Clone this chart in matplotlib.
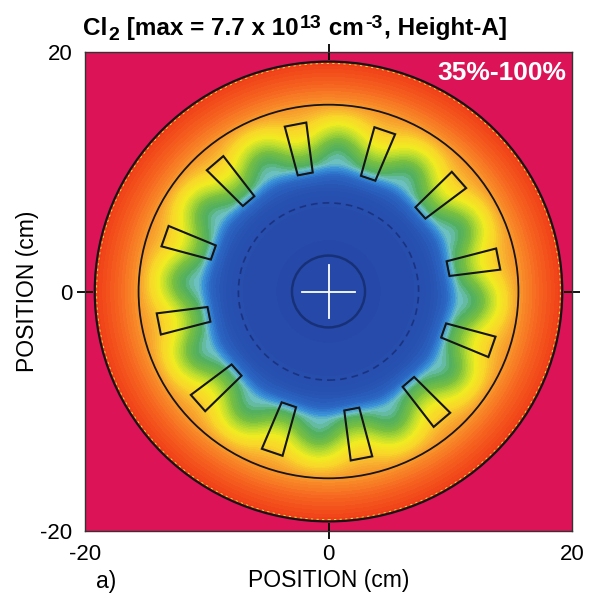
import numpy as np
import matplotlib
matplotlib.use('Agg')
import matplotlib.pyplot as plt
from matplotlib.colors import LinearSegmentedColormap
from matplotlib.patches import Circle, Polygon

plt.rcParams.update({
    "font.family": ["Liberation Sans", "DejaVu Sans"],
    "axes.unicode_minus": False,
})

# radial profile of the normalised Cl2 density (0 = 35 %, 1 = 100 %)
radius_cm = [0, 3, 7, 8.4, 9.5, 10.2, 10.7, 11.4, 12.2, 13.0, 14.0, 15.0, 15.6, 16.5, 17.5, 18.5, 19.2]
density = [0.0, 0.01, 0.03, 0.08, 0.15, 0.24, 0.31, 0.36, 0.43, 0.52, 0.63, 0.73, 0.79, 0.85, 0.91, 0.96, 1.0]
# strength of the 12-fold ripple caused by the coils
ripple_r = [0, 8.8, 9.8, 10.8, 11.7, 12.5, 13.5, 14.5, 15.3, 16.0, 19.2]
ripple_amp = [0, 0, 0.012, 0.03, 0.06, 0.08, 0.07, 0.04, 0.02, 0, 0]

# coil positions
coil_angles = [11, 41, 71, 101, 131, 161, 191, 221, 251, 281, 311, 341]
coil_r_in, coil_r_out = 10.0, 14.2
coil_w_in, coil_w_out = 1.25, 1.8

wall_r = 19.2
inner_ring_r = 15.6
dashed_ring_r = 7.4
center_ring_r = 3.0

ticks = [-20, 0, 20]

stops = [0.00, 0.10, 0.18, 0.24, 0.29, 0.34, 0.42, 0.50, 0.58, 0.66, 0.74, 0.82, 0.90, 1.00]
colors = ['#2648a8', '#2854b4', '#2c6cc8', '#3c96d8', '#6cc0c0', '#52b060', '#78c040',
          '#b8dc30', '#f0ec20', '#f8d828', '#f8b030', '#f88c28', '#f66420', '#f03c18']
cmap = LinearSegmentedColormap.from_list('cl2', list(zip(stops, colors)))

# build the field on a grid
x = np.linspace(-20, 20, 600)
X, Y = np.meshgrid(x, x)
R = np.hypot(X, Y)
T = np.degrees(np.arctan2(Y, X))
F = np.interp(R, radius_cm, density) + \
    np.interp(R, ripple_r, ripple_amp) * np.cos(np.radians(12 * (T - coil_angles[0])))
F = np.clip(F, 0, 1)
F = np.ma.masked_where(R > wall_r, F)

fig = plt.figure(figsize=(5.92, 5.95), dpi=100)
ax = fig.add_axes([85 / 592, 1 - 531 / 595, 487 / 592, 479 / 595])
ax.set_facecolor('#dc1457')

ax.contourf(X, Y, F, levels=np.linspace(0, 1, 61), cmap=cmap, antialiased=False)

ax.add_patch(Circle((0, 0), wall_r - 0.15, fill=False, ec='#e8d040', lw=0.8, ls=(0, (2, 3))))
ax.add_patch(Circle((0, 0), wall_r, fill=False, ec='#151515', lw=1.6))
ax.add_patch(Circle((0, 0), inner_ring_r, fill=False, ec='#151515', lw=1.3))
ax.add_patch(Circle((0, 0), dashed_ring_r, fill=False, ec='#1a3380', lw=1.2, ls=(0, (4, 3))))
ax.add_patch(Circle((0, 0), center_ring_r, fill=False, ec='#173178', lw=1.8))

for ang in coil_angles:
    a = np.radians(ang)
    u = np.array([np.cos(a), np.sin(a)])
    n = np.array([-np.sin(a), np.cos(a)])
    pts = [coil_r_in * u - coil_w_in / 2 * n,
           coil_r_out * u - coil_w_out / 2 * n,
           coil_r_out * u + coil_w_out / 2 * n,
           coil_r_in * u + coil_w_in / 2 * n]
    ax.add_patch(Polygon(pts, closed=True, fill=False, ec='#151515', lw=1.5))

# white cross at the centre
ax.plot([-2.2, 2.2], [0, 0], color='white', lw=1.3)
ax.plot([0, 0], [-2.2, 2.2], color='white', lw=1.3)

ax.set_xlim(-20, 20)
ax.set_ylim(-20, 20)
ax.set_xticks(ticks)
ax.set_yticks(ticks)
ax.tick_params(direction='inout', length=12, width=1.3, top=True, right=True,
               labelsize=16, pad=3)
# only the centre ticks are drawn as marks
for axis in (ax.xaxis, ax.yaxis):
    for val, tk in zip(ticks, axis.get_major_ticks()):
        if val != 0:
            tk.tick1line.set_visible(False)
            tk.tick2line.set_visible(False)
for s in ax.spines.values():
    s.set_linewidth(1.0)
    s.set_color('#333333')

ax.set_xlabel('POSITION (cm)', fontsize=16.5, labelpad=3)
ax.set_ylabel('POSITION (cm)', fontsize=16.5, labelpad=1)

ax.text(0.988, 0.982, '35%-100%', transform=ax.transAxes, ha='right', va='top',
        color='white', fontsize=19, fontweight='bold')

# title built from pieces so the scripts stay nearly full size
title_parts = [('Cl', 0, 17.5), ('2', -5, 14), (' [max = 7.7 x 10', 0, 17.5),
               ('13', 7, 14), (' cm', 0, 17.5), ('-3', 7, 14), (', Height-A]', 0, 17.5)]
renderer = fig.canvas.get_renderer()
xpos = 83
base = 595 - 35
for txt, dy, size in title_parts:
    t = fig.text(xpos / 592, (base + dy) / 595, txt, fontsize=size, fontweight='bold',
                 ha='left', va='baseline')
    xpos = t.get_window_extent(renderer).x1 + 1

fig.text(96 / 592, 1 - 588 / 595, 'a)', fontsize=16.5, ha='left', va='baseline')

fig.savefig('out.png', dpi=100)
